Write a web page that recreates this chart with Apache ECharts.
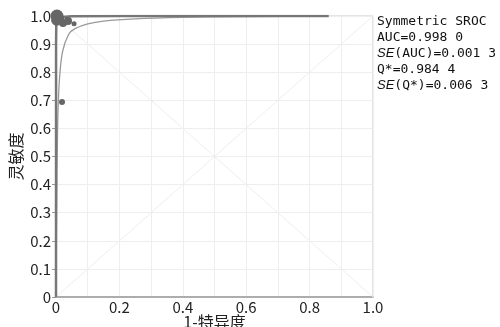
<!DOCTYPE html>
<html><head><meta charset="utf-8">
<script src="https://cdn.jsdelivr.net/npm/echarts@6/dist/echarts.min.js"></script>
<style>html,body{margin:0;padding:0;background:#fff}#c{width:500px;height:327px}</style>
</head><body><div id="c"></div>
<script>
// Study points: [1-specificity, sensitivity, symbol size]
var studyPoints = [
  [0.003, 1.000, 13],
  [0.002, 0.985, 11],
  [0.012, 0.990, 9],
  [0.022, 0.975, 8],
  [0.038, 0.982, 8],
  [0.057, 0.972, 5],
  [0.019, 0.694, 6]
];
// Symmetric SROC curve (thick)
var srocCurve = [[0,0],[0.0002,0.9],[0.001,0.98],[0.005,0.995],[0.05,0.999],[0.2,1.0],[0.86,1.0]];
// Thin lighter curve
var thinCurve = [[0,0],[0.002,0.3],[0.005,0.6],[0.01,0.76],[0.02,0.87],[0.04,0.935],[0.06,0.955],[0.1,0.972],[0.15,0.982],[0.25,0.99],[0.4,0.995],[0.6,0.998],[0.86,1.0]];
var diag1 = [[0,0],[1,1]];
var diag2 = [[0,1],[1,0]];
var statLines = ['Symmetric SROC','AUC=0.998 0','SE(AUC)=0.001 3','Q*=0.984 4','SE(Q*)=0.006 3'];

var chart = echarts.init(document.getElementById('c'));
var mono = 'DejaVu Sans Mono';
chart.setOption({
  animation:false,
  grid:{left:56,right:127,top:16,bottom:30,show:true,borderColor:'#c8c8c8',borderWidth:1,
    containLabel:false,outerBoundsMode:'none'},
  xAxis:{type:'value',min:0,max:1,interval:0.1,
    name:'1-特异度',nameLocation:'middle',nameGap:17,nameMoveOverlap:false,
    nameTextStyle:{fontSize:16,color:'#222',fontFamily:'Noto Sans CJK SC'},
    axisLine:{show:true,onZero:false,lineStyle:{color:'#999',width:1.5}},
    axisTick:{show:false},
    axisLabel:{fontSize:15,color:'#222',margin:3,fontFamily:'Noto Sans CJK JP',
      formatter:function(v){var r=Math.round(v*10);if(r%2)return '';return r===0?'0':(r/10).toFixed(1);}},
    splitLine:{show:true,lineStyle:{color:'#eeeeee'}}},
  yAxis:{type:'value',min:0,max:1,interval:0.1,
    name:'灵敏度',nameLocation:'middle',nameGap:32,nameRotate:90,nameMoveOverlap:false,
    nameTextStyle:{fontSize:16,color:'#222',fontFamily:'Noto Sans CJK SC'},
    axisLine:{show:true,onZero:false,lineStyle:{color:'#999',width:1.5}},
    axisTick:{show:true,length:4,lineStyle:{color:'#999'}},
    axisLabel:{fontSize:15,color:'#222',margin:5,fontFamily:'Noto Sans CJK JP',
      formatter:function(v){var r=Math.round(v*10);return r===0?'0':(r/10).toFixed(1);}},
    splitLine:{show:true,lineStyle:{color:'#eeeeee'}}},
  graphic:[{type:'text',left:377,top:15,style:{
    text:'{m|'+statLines[0]+'}\n{m|'+statLines[1]+'}\n{i|SE}{m|'+statLines[2].slice(2)+'}\n{m|'+statLines[3]+'}\n{i|SE}{m|'+statLines[4].slice(2)+'}',
    rich:{m:{fontFamily:mono,fontSize:13,lineHeight:16,fill:'#111'},
          i:{fontFamily:'Liberation Sans',fontStyle:'italic',fontSize:13,lineHeight:16,fill:'#111'}}}}],
  series:[
    {type:'line',data:diag1,symbol:'none',lineStyle:{color:'#eeeeee',width:1},silent:true,z:1},
    {type:'line',data:diag2,symbol:'none',lineStyle:{color:'#eeeeee',width:1},silent:true,z:1},
    {type:'line',data:thinCurve,symbol:'none',smooth:0.3,lineStyle:{color:'#999',width:1.3},z:2},
    {type:'line',data:srocCurve,symbol:'none',lineStyle:{color:'#777',width:2.5},z:3},
    {type:'scatter',data:studyPoints,symbolSize:function(d){return d[2];},
      itemStyle:{color:'#666',opacity:1},z:4}
  ]
});
</script></body></html>
